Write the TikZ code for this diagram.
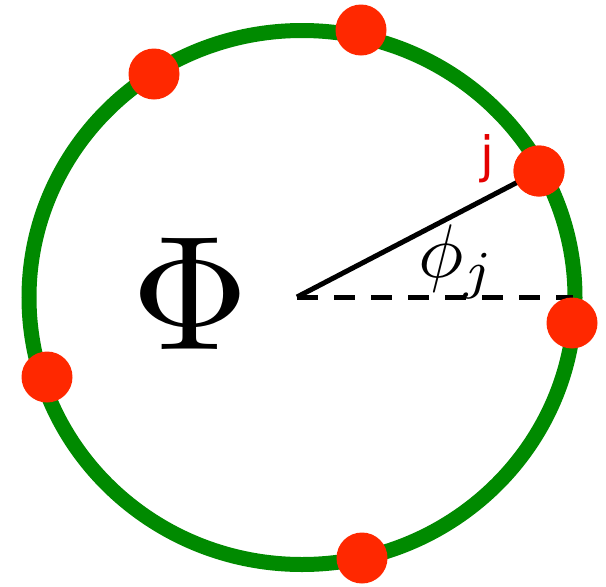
\documentclass[tikz,border=0pt]{standalone}
\usepackage{fontspec}
\newfontfamily\jfont{DejaVu Sans}
\definecolor{ringgreen}{RGB}{0,138,0}
\definecolor{dotred}{RGB}{255,40,0}
\definecolor{labred}{RGB}{228,0,0}
\begin{document}
\begin{tikzpicture}[x=1pt,y=-1pt,
  ring/.style={draw=ringgreen,line width=15pt},
  pt/.style={circle,fill=dotred,minimum size=51pt,inner sep=0pt},
  radius line/.style={line width=5pt,black}]
\useasboundingbox (0,0) rectangle (606,587);
\coordinate (rc) at (302,297.5);
\draw[ring] (rc) ellipse [x radius=273pt, y radius=267pt];
\coordinate (c) at (297,297);
\coordinate (e) at (573,297);
\node[pt] (pj) at (539,171) {};
\draw[radius line] (c) -- (pj.center);
\draw[radius line,dash pattern=on 21pt off 16pt] (c) -- (e);
\node[pt] (p1) at (361,30) {};
\node[pt] (p2) at (154,74) {};
\node[pt] at (pj) {};
\node[pt] (p4) at (572,323) {};
\node[pt] (p5) at (47,377) {};
\node[pt] (p6) at (362,558) {};
\node[font=\normalsize,scale=16.3] (Phi) at (190,294) {$\Phi$};
\node[font=\normalsize,scale=7.6] (phij) at (457,262) {$\phi_j$};
\node[font=\jfont\fontsize{50}{50}\selectfont,text=labred,inner sep=0pt] (j) at (487,159) {j};
\end{tikzpicture}
\end{document}
